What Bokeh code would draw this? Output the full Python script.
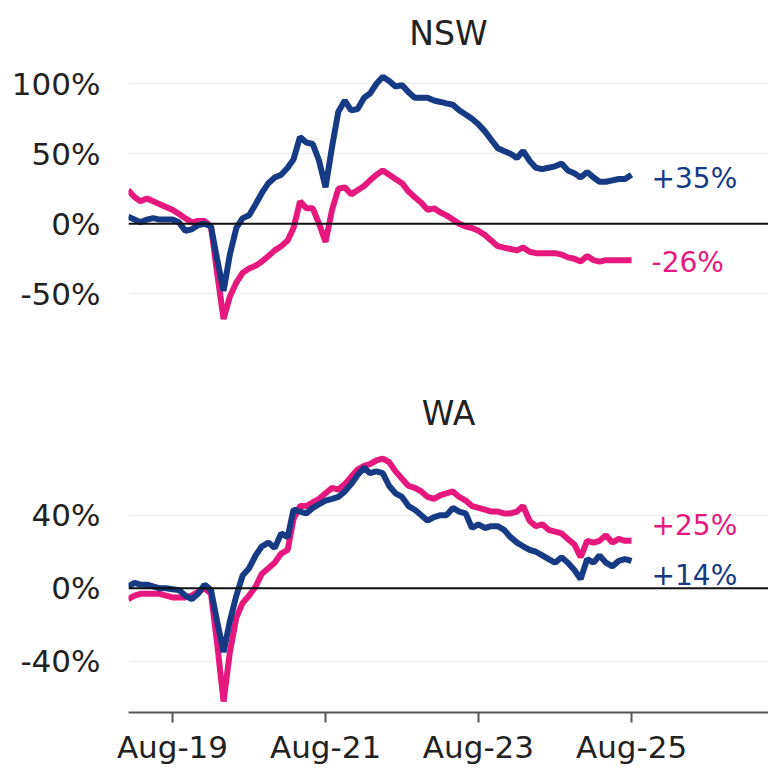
import pandas as pd
from bokeh.plotting import figure
from bokeh.layouts import column
from bokeh.models import (Range1d, FixedTicker, PrintfTickFormatter, Span,
                          DatetimeTickFormatter, ColumnDataSource)
from bokeh.embed import file_html
from bokeh.resources import INLINE

# ---- data (monthly, Jan-2019 .. Aug-2025), % change ----
months = pd.date_range("2019-01-01", "2025-08-01", freq="MS")

nsw_blue = [5, 3, 1, 3, 4, 3, 3, 3, 1, -5, -4, -1, 0, -2, -25, -48, -22, -3, 4, 6,
            14, 22, 29, 33, 35, 40, 46, 62, 58, 57, 45, 26, 55, 80, 88, 81, 82, 90, 93, 100,
            105, 102, 98, 99, 94, 90, 90, 90, 88, 87, 86, 85, 81, 78, 75, 71, 66, 60, 54, 52,
            50, 47, 52, 45, 40, 39, 40, 41, 43, 38, 36, 33, 37, 33, 30, 30, 31, 32, 32, 35]
nsw_pink = [24, 19, 16, 18, 16, 14, 12, 10, 7, 4, 1, 2, 2, -2, -35, -68, -52, -42, -35, -32,
            -30, -27, -23, -19, -16, -12, -3, 16, 11, 11, 0, -13, 10, 25, 26, 21, 24, 27, 31, 35,
            38, 35, 32, 29, 23, 19, 15, 10, 11, 8, 6, 3, 0, -2, -3, -5, -8, -12, -16, -17,
            -18, -19, -17, -20, -21, -21, -21, -21, -22, -24, -25, -27, -23, -26, -27, -26, -26, -26, -26, -26]
wa_blue = [1, 3, 2, 2, 1, 0, 0, -0.5, -1, -4, -6, -3, 2, -1, -18, -35, -18, -4, 7, 11,
           18, 23, 25, 22, 30, 28, 43, 42, 41, 44, 46, 48, 49, 50, 53, 57, 62, 66, 63, 64,
           63, 56, 52, 50, 45, 43, 40, 37, 39, 40, 40, 44, 42, 41, 33, 35, 33, 34, 34, 32,
           28, 25, 23, 21, 20, 18, 16, 14, 17, 14, 10, 5, 16, 14, 18, 14, 12, 15, 16, 15]
wa_pink = [-6, -4, -3, -3, -3, -3, -4, -5, -5, -5, -4, -2, 0, -3, -30, -62, -35, -16, -8, -4,
           1, 8, 11, 14, 19, 21, 38, 45, 45, 47, 49, 52, 55, 54, 57, 61, 65, 67, 68, 70,
           71, 69, 64, 60, 56, 55, 53, 50, 49, 51, 52, 53, 50, 48, 45, 44, 43, 42, 42, 41,
           41, 42, 45, 37, 34, 35, 32, 31, 30, 27, 24, 17, 26, 25, 26, 29, 25, 27, 26, 26]

nsw_labels = ["+35%", "-26%"]
wa_labels = ["+14%", "+25%"]
x_ticks = ["2019-08-01", "2021-08-01", "2023-08-01", "2025-08-01"]
nsw_yticks = [-50, 0, 50, 100]
wa_yticks = [-40, 0, 40]

BLUE = "#163a84"
PINK = "#e6187d"
FONT = "DejaVu Sans"
TXT = "#222222"

x_range = Range1d(pd.Timestamp("2019-01-03"), pd.Timestamp("2027-05-17"))
tick_ms = [pd.Timestamp(t).value / 1e6 for t in x_ticks]


def make_panel(title, blue, pink, labels, yr, yticks, height, border_top, border_bottom,
               show_x, offsets, standoff):
    p = figure(width=768, height=height, x_axis_type="datetime", x_range=x_range,
               y_range=Range1d(*yr), output_backend="svg", toolbar_location=None,
               min_border_left=128, min_border_right=0, min_border_top=border_top,
               min_border_bottom=border_bottom)
    p.title.text = title
    p.title.align = "center"
    p.title.text_font = FONT
    p.title.text_font_size = "33px"
    p.title.text_font_style = "normal"
    p.title.text_color = TXT
    p.title.standoff = standoff
    p.outline_line_color = None
    p.xgrid.grid_line_color = None
    p.ygrid.grid_line_color = "#eeeeee"
    p.ygrid.grid_line_width = 1.5
    p.yaxis.ticker = FixedTicker(ticks=yticks)
    p.yaxis.formatter = PrintfTickFormatter(format="%d%%")
    p.yaxis.axis_line_color = None
    p.yaxis.major_tick_line_color = None
    p.yaxis.minor_tick_line_color = None
    p.yaxis.major_label_text_font = FONT
    p.yaxis.major_label_text_font_size = "31px"
    p.yaxis.major_label_text_color = TXT
    p.yaxis.major_label_standoff = 22
    if show_x:
        p.xaxis.ticker = FixedTicker(ticks=tick_ms)
        fmt = "%b-%y"
        p.xaxis.formatter = DatetimeTickFormatter(
            milliseconds=fmt, seconds=fmt, minsec=fmt, minutes=fmt, hourmin=fmt,
            hours=fmt, days=fmt, months=fmt, years=fmt)
        p.xaxis.axis_line_color = "#555555"
        p.xaxis.axis_line_width = 2
        p.xaxis.major_tick_line_color = "#555555"
        p.xaxis.major_tick_line_width = 2
        p.xaxis.major_tick_out = 10
        p.xaxis.major_tick_in = 0
        p.xaxis.minor_tick_line_color = None
        p.xaxis.major_label_text_font = FONT
        p.xaxis.major_label_text_font_size = "31px"
        p.xaxis.major_label_text_color = TXT
        p.xaxis.major_label_standoff = 6
    else:
        p.xaxis.visible = False

    p.add_layout(Span(location=0, dimension="width", line_color="#111111", line_width=2))
    p.line(months, pink, line_color=PINK, line_width=6)
    p.line(months, blue, line_color=BLUE, line_width=6)

    for vals, col, lab, off in [(blue, BLUE, labels[0], offsets[0]),
                                (pink, PINK, labels[1], offsets[1])]:
        src = ColumnDataSource(dict(x=[months[-1]], y=[vals[-1]], t=[lab]))
        p.text(x="x", y="y", text="t", source=src, x_offset=20, y_offset=off,
               text_color=col, text_font_size="28px", text_baseline="middle",
               text_align="left", text_font={"value": FONT})
    return p


p1 = make_panel("NSW", nsw_blue, nsw_pink, nsw_labels, (-79.8, 116.6), nsw_yticks,
                340, 60, 5, False, (4, 2), 16)
p2 = make_panel("WA", wa_blue, wa_pink, wa_labels, (-68, 80.9), wa_yticks,
                429, 100, 57, True, (15, -15), 15)

layout = column(p1, p2, spacing=0)
open("out.html", "w").write(file_html(layout, INLINE))
